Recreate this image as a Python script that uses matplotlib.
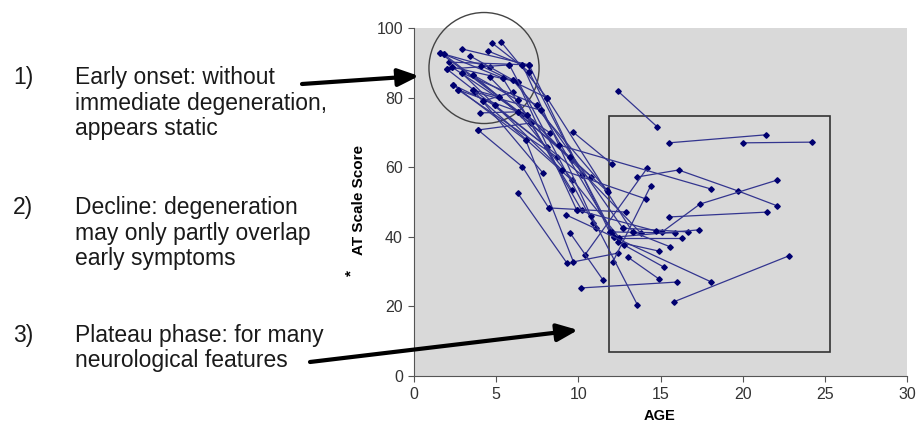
import matplotlib
matplotlib.use('Agg')
import matplotlib.pyplot as plt
from matplotlib.patches import Ellipse, Rectangle

plt.rcParams['font.family'] = ['Liberation Sans', 'DejaVu Sans']

# longitudinal AT scale scores, one list per subject
subject_ages = [
    [1.6, 4.6], [1.8, 5.4], [2.9, 7.0], [4.75, 7.0], [5.3, 8.1],
    [4.5, 6.6], [3.4, 6.0], [2.1, 7.0], [2.0, 5.8], [2.3, 6.3],
    [2.9, 7.5], [3.6, 6.3], [2.4, 4.9], [2.7, 6.9], [3.6, 5.2],
    [3.7, 7.7], [4.2, 6.0], [3.9, 7.1], [4.0, 6.3], [4.1, 8.1],
    [1.6, 6.6], [1.8, 7.2], [2.0, 8.1], [2.3, 8.3], [2.4, 6.8],
    [2.7, 8.7], [2.9, 9.0], [3.6, 9.5], [3.6, 7.85], [4.2, 9.6],
    [4.6, 9.6], [4.9, 10.2], [5.2, 10.8], [5.4, 9.6], [6.0, 11.75],
    [6.3, 9.9], [6.3, 10.2], [5.8, 10.9], [6.6, 11.1], [7.0, 11.9],
    [7.0, 12.2], [6.3, 12.5], [6.9, 13.8], [7.5, 12.05], [7.7, 12.7],
    [8.1, 13.3], [3.9, 6.6, 8.2], [6.3, 9.3], [6.8, 9.7, 12.4], [9.68, 12.05],
    [12.4, 14.8], [15.5, 21.4], [20.0, 24.2], [13.6, 16.1, 19.7, 22.1], [15.1, 17.4, 22.1],
    [15.5, 21.5], [10.4, 14.2], [12.1, 14.4], [9.0, 14.1], [8.8, 18.1],
    [11.9, 15.9], [12.7, 16.7], [12.2, 17.35], [12.5, 16.3], [13.3, 15.6],
    [12.4, 14.9], [12.8, 15.2], [13.0, 14.9], [9.5, 11.5], [10.16, 16.0],
    [10.8, 13.6], [15.8, 22.8], [9.25, 18.1], [8.2, 12.9], [9.5, 11.8],
    [9.9, 14.7],
]
subject_scores = [
    [92.8, 88.8], [92.5, 85.6], [94.0, 89.4], [95.7, 87.4], [96.0, 79.9],
    [93.4, 89.4], [92.0, 85.1], [90.2, 89.4], [88.2, 89.4], [88.8, 84.5],
    [87.1, 77.9], [86.5, 79.3], [83.6, 77.9], [82.2, 75.0], [82.2, 80.2],
    [81.6, 76.4], [79.0, 81.6], [70.7, 72.7], [75.6, 75.9], [89.1, 79.9],
    [92.8, 75.0], [92.5, 73.0], [88.2, 65.8], [88.8, 69.8], [83.6, 67.8],
    [82.2, 62.9], [87.1, 59.2], [86.5, 62.9], [82.2, 58.3], [79.0, 56.3],
    [85.9, 62.1], [77.9, 57.8], [80.2, 57.2], [85.6, 53.4], [85.1, 53.4],
    [84.5, 47.7], [79.3, 47.7], [89.4, 44.0], [89.4, 42.5], [89.4, 41.4],
    [87.4, 39.9], [75.9, 39.7], [75.0, 41.1], [77.9, 41.4], [76.4, 42.5],
    [79.9, 41.4], [70.7, 60.1, 48.3], [52.6, 32.5], [67.8, 32.8, 35.3], [70.1, 60.9],
    [81.9, 71.6], [67.0, 69.3], [67.0, 67.2], [57.2, 59.2, 53.2, 48.9], [41.4, 49.4, 56.3],
    [45.7, 47.1], [34.8, 59.8], [32.8, 54.6], [59.2, 50.9], [66.4, 53.7],
    [41.4, 41.1], [42.5, 41.4], [39.9, 42.0], [39.7, 39.7], [41.4, 37.1],
    [38.5, 35.9], [37.6, 31.3], [34.2, 27.9], [41.1, 27.6], [25.3, 27.0],
    [46.0, 20.4], [21.3, 34.5], [46.3, 27.0], [48.3, 47.1], [62.9, 52.9],
    [47.7, 41.7],
]

x_ticks = [0, 5, 10, 15, 20, 25, 30]
y_ticks = [0, 20, 40, 60, 80, 100]

notes = [
    ('1)', ['Early onset: without', 'immediate degeneration,', 'appears static'], [84, 110, 135]),
    ('2)', ['Decline: degeneration', 'may only partly overlap', 'early symptoms'], [214, 240, 265]),
    ('3)', ['Plateau phase: for many', 'neurological features'], [342, 367]),
]

W, H = 919, 424
fig = plt.figure(figsize=(W / 100, H / 100), dpi=100)
ax = fig.add_axes([414 / W, 48 / H, 493 / W, 348 / H])
ax.set_facecolor('#d9d9d9')

for a, s in zip(subject_ages, subject_scores):
    ax.plot(a, s, color='#33358f', lw=0.9, marker='D', markersize=2.8,
            markerfacecolor='#000070', markeredgecolor='#000070')

ax.set_xlim(0, 30)
ax.set_ylim(0, 100)
ax.set_xticks(x_ticks)
ax.set_yticks(y_ticks)
ax.tick_params(direction='out', length=4, width=0.8, colors='#555555',
               labelsize=11.5, labelcolor='#333333', pad=4)
for side in ['top', 'right']:
    ax.spines[side].set_visible(False)
for side in ['left', 'bottom']:
    ax.spines[side].set_color('#555555')

# circle and box
ax.add_patch(Ellipse((4.26, 88.5), 6.7, 31.9, fill=False, edgecolor='#444444',
                     lw=1.0, clip_on=False))
ax.add_patch(Rectangle((11.87, 6.9), 13.45, 67.8, fill=False, edgecolor='#333333',
                       lw=1.2))

fig.text(359 / W, 1 - 200 / H, 'AT Scale Score', rotation=90, fontweight='bold',
         fontsize=11, ha='center', va='center')
fig.text(351 / W, 1 - 273 / H, '*', rotation=90, fontweight='bold',
         fontsize=11, ha='center', va='center')
fig.text(660 / W, 1 - 416 / H, 'AGE', fontweight='bold', fontsize=10.5,
         ha='center', va='center')

for num, lines, ys in notes:
    fig.text(13 / W, 1 - ys[0] / H, num, fontsize=16.5, color='#1a1a1a', va='baseline')
    for line, y in zip(lines, ys):
        fig.text(75 / W, 1 - y / H, line, fontsize=16.5, color='#1a1a1a', va='baseline')

arrow = dict(arrowstyle='-|>,head_length=0.9,head_width=0.38', lw=3, color='black',
             mutation_scale=14, shrinkA=0, shrinkB=0)
fig.add_artist(matplotlib.patches.FancyArrowPatch((302, H - 84), (419, H - 76),
                                                  transform=None, **arrow))
fig.add_artist(matplotlib.patches.FancyArrowPatch((310, H - 362), (578, H - 330),
                                                  transform=None, **arrow))

fig.savefig('out.png', dpi=100)
